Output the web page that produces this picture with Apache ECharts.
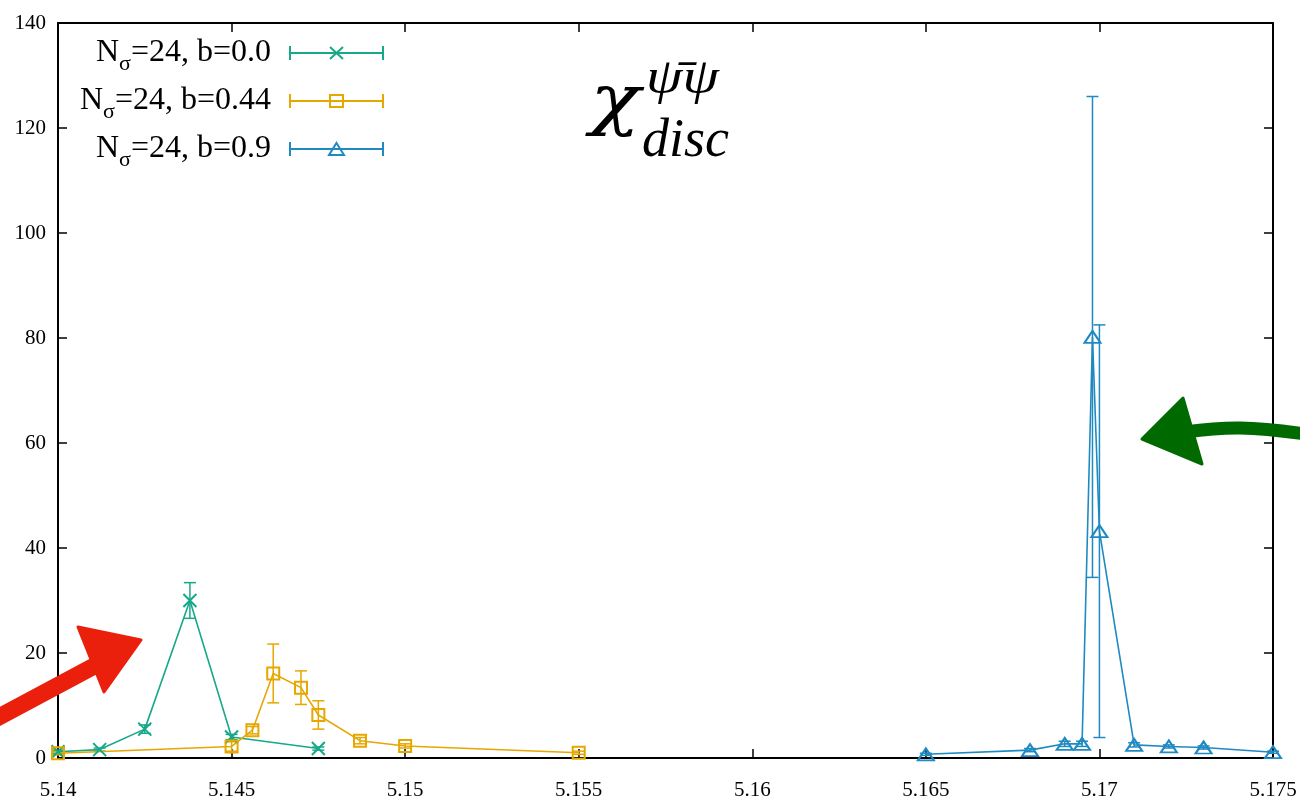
<!DOCTYPE html>
<html>
<head>
<meta charset="utf-8">
<script src="https://cdn.jsdelivr.net/npm/echarts@6/dist/echarts.min.js"></script>
<style>html,body{margin:0;padding:0;background:#fff}#c{width:1300px;height:798px}</style>
</head>
<body>
<div id="c"></div>
<script>
// ---- data ----
const seriesNames = ['Nσ=24, b=0.0', 'Nσ=24, b=0.44', 'Nσ=24, b=0.9'];
const colors = ['#17a889', '#e6a700', '#1f8ac2'];

const b00X   = [5.1400, 5.1412, 5.1425, 5.1438, 5.1450, 5.1475];
const b00Y   = [1.2, 1.6, 5.5, 30.0, 4.0, 1.8];
const b00Err = [0.3, 0.3, 0.8, 3.4, 0.5, 0.3];

const b044X   = [5.1400, 5.1450, 5.1456, 5.1462, 5.1470, 5.1475, 5.1487, 5.1500, 5.1550];
const b044Y   = [0.9, 2.2, 5.3, 16.1, 13.4, 8.2, 3.3, 2.3, 1.0];
const b044Err = [0.3, 0.9, 0.7, 5.6, 3.2, 2.7, 0.6, 0.4, 0.3];

const b09X   = [5.1650, 5.1680, 5.1690, 5.1695, 5.1698, 5.1700, 5.1710, 5.1720, 5.1730, 5.1750];
const b09Y   = [0.7, 1.5, 2.7, 2.7, 80.2, 43.2, 2.5, 2.2, 2.0, 1.1];
const b09Err = [0.2, 0.3, 0.5, 0.5, 45.8, 39.3, 0.4, 0.3, 0.3, 0.2];

const xMin = 5.14, xMax = 5.175, xStep = 0.005;
const yMin = 0, yMax = 140, yStep = 20;

// ---- build ----
const FONT = 'Liberation Serif';
const sets = [
  {x: b00X, y: b00Y, e: b00Err, symbol: 'path://M0 0L10 10M10 0L0 10', size: 13},
  {x: b044X, y: b044Y, e: b044Err, symbol: 'rect', size: 12},
  {x: b09X, y: b09Y, e: b09Err, symbol: 'triangle', size: [16, 12]}
];
const legendIcons = [
  'path://M0 8L93 8M0 1L0 15M93 1L93 15M40 2L53 14M53 2L40 14',
  'path://M0 8L93 8M0 1L0 15M93 1L93 15M40 2L53 2L53 14L40 14Z',
  'path://M0 8L93 8M0 1L0 15M93 1L93 15M46.5 2L54 14L39 14Z'
];

const series = [];
sets.forEach((s, i) => {
  const c = colors[i];
  series.push({
    name: seriesNames[i] + ' err',
    type: 'custom',
    data: s.x.map((x, k) => [x, s.y[k], s.e[k]]),
    encode: {x: 0, y: 1},
    z: 2,
    silent: true,
    renderItem: function (params, api) {
      const x = api.value(0), y = api.value(1), e = api.value(2);
      const hi = api.coord([x, y + e]);
      const lo = api.coord([x, y - e]);
      const w = 6;
      const st = {stroke: c, lineWidth: 1.5};
      return {type: 'group', children: [
        {type: 'line', shape: {x1: hi[0], y1: hi[1], x2: lo[0], y2: lo[1]}, style: st},
        {type: 'line', shape: {x1: hi[0] - w, y1: hi[1], x2: hi[0] + w, y2: hi[1]}, style: st},
        {type: 'line', shape: {x1: lo[0] - w, y1: lo[1], x2: lo[0] + w, y2: lo[1]}, style: st}
      ]};
    }
  });
  series.push({
    name: seriesNames[i],
    type: 'line',
    data: s.x.map((x, k) => [x, s.y[k]]),
    symbol: s.symbol,
    symbolSize: s.size,
    showAllSymbol: true,
    z: 3,
    lineStyle: {color: c, width: 1.6},
    itemStyle: {color: 'rgba(0,0,0,0)', borderColor: c, borderWidth: 2},
    emphasis: {disabled: true},
    animation: false
  });
});

const axisCommon = {
  axisLine: {show: true, onZero: false, lineStyle: {color: '#000', width: 2}},
  axisTick: {show: true, inside: true, length: 9, lineStyle: {color: '#000', width: 1.5}},
  splitLine: {show: false}
};

const option = {
  animation: false,
  backgroundColor: '#fff',
  grid: {left: 58, right: 27, top: 23, bottom: 40, containLabel: false, outerBoundsMode: 'none'},
  xAxis: [
    Object.assign({type: 'value', min: xMin, max: xMax, interval: xStep, position: 'bottom',
      axisLabel: {color: '#000', fontFamily: FONT, fontSize: 21, margin: 22,
        formatter: v => String(+v.toFixed(3))}}, axisCommon),
    Object.assign({type: 'value', min: xMin, max: xMax, interval: xStep, position: 'top',
      axisLabel: {show: false}}, axisCommon)
  ],
  yAxis: [
    Object.assign({type: 'value', min: yMin, max: yMax, interval: yStep, position: 'left',
      axisLabel: {color: '#000', fontFamily: FONT, fontSize: 21, margin: 12}}, axisCommon),
    Object.assign({type: 'value', min: yMin, max: yMax, interval: yStep, position: 'right',
      axisLabel: {show: false}}, axisCommon)
  ],
  legend: {
    orient: 'vertical',
    align: 'right',
    right: 916,
    top: 31,
    padding: 0,
    itemGap: 4,
    itemWidth: 93,
    itemHeight: 16,
    selectedMode: false,
    data: seriesNames.map((n, i) => ({
      name: n,
      icon: legendIcons[i],
      itemStyle: {color: 'rgba(0,0,0,0)', borderColor: colors[i], borderWidth: 2}
    })),
    formatter: n => n.replace('σ', '{s|σ}'),
    textStyle: {
      fontFamily: FONT, fontSize: 32, color: '#000', lineHeight: 34,
      padding: [0, 14, 0, 0],
      rich: {s: {fontFamily: FONT, fontSize: 22, lineHeight: 22, padding: [22, 0, 0, 0], color: '#000'}}
    }
  },
  graphic: [
    // title chi^{psi-bar psi}_{disc}
    {type: 'text', x: 590, y: 70, scaleX: 1.22, z: 10, style: {text: 'χ', font: 'italic 68px "DejaVu Serif"', fill: '#000'}},
    {type: 'text', x: 646, y: 54, scaleX: 1.15, z: 10, style: {text: 'ψ̄ψ', font: 'italic 51px "Liberation Serif"', fill: '#000'}},
    {type: 'text', x: 642, y: 115, z: 10, style: {text: 'disc', font: 'italic 54px "Liberation Serif"', fill: '#000'}},
    // red hand-drawn arrow
    {type: 'polyline', z: 20, shape: {points: [[-5, 719], [98, 664]]}, style: {stroke: '#ea200d', lineWidth: 17, lineCap: 'round', fill: null}},
    {type: 'polygon', z: 20, shape: {points: [[78, 627], [141, 640], [104, 692]]}, style: {fill: '#ea200d', stroke: '#ea200d', lineWidth: 3, lineJoin: 'round'}},
    // green hand-drawn arrow
    {type: 'polyline', z: 20, shape: {points: [[1185, 432], [1240, 428], [1305, 434]], smooth: 0.4}, style: {stroke: '#006a00', lineWidth: 13, lineCap: 'round', fill: null}},
    {type: 'polygon', z: 20, shape: {points: [[1142, 439], [1183, 398], [1202, 464]]}, style: {fill: '#006a00', stroke: '#006a00', lineWidth: 3, lineJoin: 'round'}}
  ],
  series: series
};

const chart = echarts.init(document.getElementById('c'), null, {renderer: 'canvas'});
chart.setOption(option);
</script>
</body>
</html>
